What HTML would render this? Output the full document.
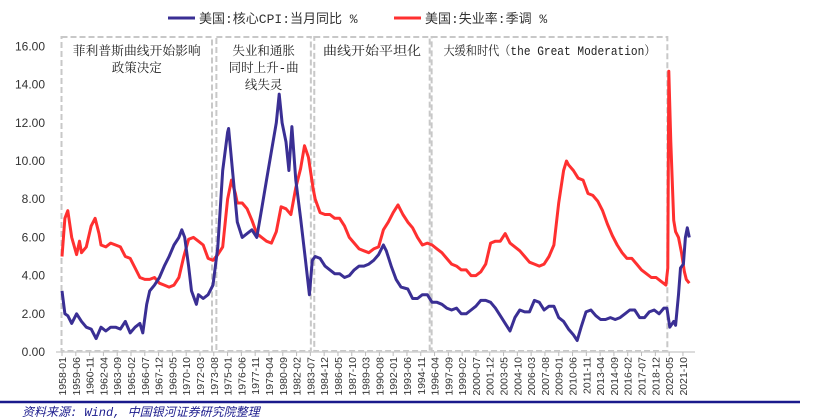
<!DOCTYPE html>
<html><head><meta charset="utf-8"><style>
html,body{margin:0;padding:0;background:#fff;width:830px;height:420px;overflow:hidden}
svg{display:block;font-family:"Liberation Sans","Noto Sans CJK SC",sans-serif}
</style></head><body>
<svg id="chart" width="830" height="420">
<g>
<line x1="168" y1="18" x2="195" y2="18" stroke="#3a2f94" stroke-width="3"/>
<text x="199" y="23" font-size="13" fill="#333" font-family="Liberation Mono,Noto Sans CJK SC,monospace">美国:核心CPI:当月同比 %</text>
<line x1="394" y1="18" x2="421" y2="18" stroke="#ff3030" stroke-width="3"/>
<text x="425" y="23" font-size="13" fill="#333" font-family="Liberation Mono,Noto Sans CJK SC,monospace">美国:失业率:季调 %</text>
</g>
<g id="boxes"></g>
<g id="yaxis"></g>
<g id="xaxis"></g>
<g id="series"></g>
<line x1="0" y1="402" x2="800" y2="402" stroke="#1a1a8c" stroke-width="2.5"/>
<text x="22" y="416" font-size="12" fill="#1a1a8c" font-style="italic" font-family="Liberation Mono,Noto Sans CJK SC,monospace">资料来源: Wind, 中国银河证券研究院整理</text>
</svg>
<script>
const yTicks=[0,2,4,6,8,10,12,14,16];
const xLabels=[];
(function(){let m=1958*12;for(let i=0;i<46;i++){const y=Math.floor(m/12),mo=m%12+1;xLabels.push(y+'-'+(mo<10?'0':'')+mo);m+=17;}})();
const cpiDates=[1958.0,1958.3,1958.6,1959,1959.5,1960,1960.5,1961,1961.5,1962,1962.5,1963,1963.5,1964,1964.5,1965,1965.5,1966,1966.3,1966.7,1967,1967.5,1968,1968.5,1969,1969.5,1970,1970.3,1970.6,1971,1971.3,1971.8,1972,1972.5,1973,1973.5,1974,1974.5,1975.0,1975.1,1975.5,1976,1976.5,1977,1977.5,1978,1978.5,1979,1979.5,1980,1980.3,1980.6,1981,1981.3,1981.6,1982,1982.5,1983,1983.4,1983.7,1984,1984.5,1985,1985.5,1986,1986.5,1987,1987.5,1988,1988.5,1989,1989.5,1990,1990.5,1991,1991.3,1991.8,1992.3,1992.8,1993.5,1994,1994.5,1995,1995.5,1996,1996.5,1997,1997.5,1998,1998.5,1999,1999.5,2000,2000.5,2001,2001.5,2002,2002.5,2003,2003.5,2004,2004.5,2005,2005.5,2006,2006.5,2007,2007.5,2008,2008.5,2009,2009.5,2010,2010.5,2010.9,2011.3,2011.8,2012.3,2012.8,2013.3,2013.8,2014.3,2014.8,2015.3,2015.8,2016.3,2016.8,2017.3,2017.8,2018.3,2018.8,2019.3,2019.8,2020.1,2020.4,2020.8,2021.0,2021.3,2021.5,2021.8,2022.0,2022.2,2022.4];
const cpiValues=[3.2,2.0,1.9,1.5,2.0,1.6,1.3,1.2,0.7,1.3,1.1,1.3,1.3,1.2,1.6,1.0,1.3,1.5,1.0,2.5,3.2,3.5,3.9,4.5,5.0,5.6,6.0,6.4,6.0,4.5,3.2,2.5,3.0,2.8,3.0,3.5,5.5,9.5,11.5,11.7,9.5,6.8,6.0,6.2,6.4,6.0,7.5,9.0,10.5,12.0,13.5,12.0,11.0,9.5,11.8,9.0,7.0,4.8,3.0,4.8,5.0,4.9,4.5,4.3,4.1,4.1,3.9,4.0,4.3,4.5,4.5,4.6,4.8,5.1,5.6,5.3,4.5,3.8,3.4,3.3,2.8,2.8,3.0,3.0,2.6,2.6,2.5,2.3,2.2,2.3,2.0,2.0,2.2,2.4,2.7,2.7,2.6,2.3,1.9,1.5,1.1,1.8,2.2,2.1,2.1,2.7,2.6,2.2,2.4,2.4,1.8,1.6,1.2,0.9,0.6,1.3,2.1,2.2,1.9,1.7,1.7,1.8,1.7,1.8,2.0,2.2,2.2,1.8,1.8,2.1,2.2,2.0,2.3,2.3,1.3,1.6,1.4,3.0,4.4,4.6,6.0,6.5,6.0];
const unempDates=[1958.0,1958.3,1958.6,1959,1959.5,1959.8,1960,1960.5,1961,1961.4,1961.8,1962,1962.5,1963,1963.5,1964,1964.5,1965,1965.5,1966,1966.5,1967,1967.5,1968,1968.5,1969,1969.5,1970,1970.5,1971,1971.5,1972,1972.5,1973,1973.5,1974,1974.5,1975,1975.4,1975.8,1976,1976.5,1977,1977.5,1978,1978.5,1979,1979.5,1980,1980.5,1981,1981.5,1982,1982.5,1982.9,1983.3,1983.8,1984,1984.5,1985,1985.5,1986,1986.5,1987,1987.5,1988,1988.5,1989,1989.5,1990,1990.5,1991,1991.5,1992,1992.5,1993,1993.5,1994,1994.5,1995,1995.5,1996,1996.5,1997,1997.5,1998,1998.5,1999,1999.5,2000,2000.5,2001,2001.5,2002,2002.5,2003,2003.5,2004,2004.5,2005,2005.5,2006,2006.5,2007,2007.5,2008,2008.5,2009,2009.5,2009.8,2010,2010.5,2011,2011.5,2012,2012.5,2013,2013.5,2014,2014.5,2015,2015.5,2016,2016.5,2017,2017.5,2018,2018.5,2019,2019.5,2020,2020.2,2020.3,2020.5,2020.8,2021.0,2021.3,2021.6,2021.9,2022.1,2022.4];
const unempValues=[5.0,7.0,7.4,6.0,5.1,5.8,5.2,5.5,6.6,7.0,6.2,5.6,5.5,5.7,5.6,5.5,5.0,4.9,4.4,3.9,3.8,3.8,3.9,3.6,3.5,3.4,3.5,3.9,5.0,5.9,6.0,5.8,5.6,4.9,4.8,5.1,5.5,8.0,9.0,8.3,7.8,7.8,7.5,6.9,6.2,6.0,5.8,5.7,6.3,7.6,7.5,7.2,8.6,9.6,10.8,10.2,8.5,8.0,7.3,7.2,7.2,7.0,7.0,6.6,6.0,5.7,5.4,5.3,5.2,5.4,5.5,6.4,6.8,7.3,7.7,7.2,6.8,6.5,6.0,5.6,5.7,5.6,5.4,5.2,4.9,4.6,4.5,4.3,4.3,4.0,4.0,4.2,4.6,5.7,5.8,5.8,6.2,5.7,5.5,5.3,5.0,4.7,4.6,4.5,4.6,5.0,5.6,7.8,9.5,10.0,9.8,9.5,9.1,9.0,8.3,8.2,7.9,7.4,6.7,6.1,5.6,5.2,4.9,4.9,4.6,4.3,4.1,3.9,3.9,3.7,3.5,4.4,14.7,11.0,6.9,6.3,6.0,5.2,4.2,3.8,3.6];
const regionStarts=[1957.95,1973.85,1983.9,1995.95];
const regionEnds=[1973.4,1983.55,1995.75,2020.15];
const regionLines=[["菲利普斯曲线开始影响","政策决定"],["失业和通胀","同时上升-曲","线失灵"],["曲线开始平坦化"],["大缓和时代（the Great Moderation）"]];
const regionTextWidths=[[128,0],[0,0,0],[98],[212]];

const NS='http://www.w3.org/2000/svg';
const X=t=>62+(t-1958)*9.74;
const Y=v=>352-v*19.1;
function mk(tag,attrs,parent){const e=document.createElementNS(NS,tag);for(const k in attrs)e.setAttribute(k,attrs[k]);parent.appendChild(e);return e;}
const boxes=document.getElementById('boxes');
regionStarts.forEach((s,i)=>{
  const x1=X(s),x2=X(regionEnds[i]);
  const r=mk('rect',{x:x1,y:37,width:x2-x1,height:314,fill:'none',stroke:'#c8c8c8','stroke-width':2,'stroke-dasharray':'6,3'},boxes);
  
  
  regionLines[i].forEach((ln,j)=>{
    const t=mk('text',{x:(x1+x2)/2,y:55+j*17,'font-size':12.5,fill:'#222','text-anchor':'middle','font-family':'Liberation Mono,Noto Serif CJK SC,monospace'},boxes);
    const w=regionTextWidths[i][j];
    if(w){t.setAttribute('textLength',w);t.setAttribute('lengthAdjust','spacingAndGlyphs');}
    t.textContent=ln;
    
    
  });
});
const ya=document.getElementById('yaxis');
yTicks.forEach(v=>{
  const t=mk('text',{x:45,y:Y(v)+4,'font-size':12,fill:'#333','text-anchor':'end'},ya);
  t.textContent=v.toFixed(2);
  
  
});
const xa=document.getElementById('xaxis');
const ax=mk('line',{x1:56,y1:352,x2:695,y2:352,stroke:'#d0d0d0','stroke-width':1.5},xa);


xLabels.forEach((lab,i)=>{
  const p=lab.split('-');const t0=+p[0]+(+p[1]-1)/12;const x=X(t0);
  const tk=mk('line',{x1:x,y1:352,x2:x,y2:356,stroke:'#bbb'},xa);
  
  
  const t=mk('text',{x:0,y:0,'font-size':10.5,fill:'#333','text-anchor':'end',transform:`translate(${x+4},357) rotate(-90)`},xa);
  t.textContent=lab;
  
  
});
const sg=document.getElementById('series');
function line(d,v,color,name){
  const pts=d.map((t,i)=>X(t).toFixed(1)+','+Y(v[i]).toFixed(1)).join(' ');
  const p=mk('polyline',{points:pts,fill:'none',stroke:color,'stroke-width':3,'stroke-linejoin':'round'},sg);
  
  
}
line(unempDates,unempValues,'#ff3030','unemployment-line');
line(cpiDates,cpiValues,'#3a2f94','core-cpi-line');
</script>
</body></html>
